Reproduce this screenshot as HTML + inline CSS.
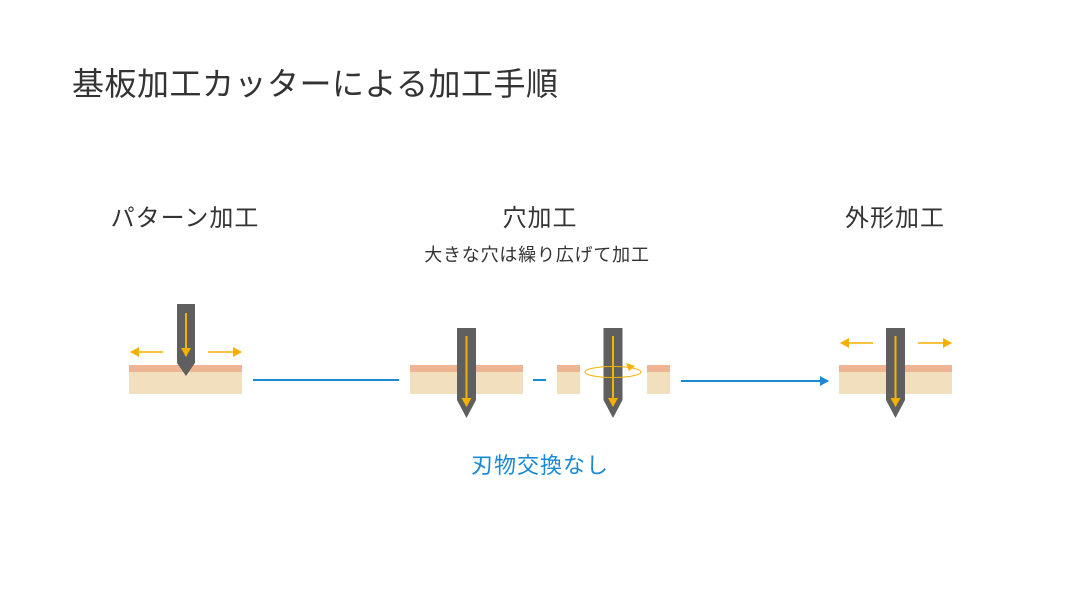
<!DOCTYPE html>
<html><head><meta charset="utf-8"><style>
body{margin:0;width:1080px;height:608px;background:#fff;overflow:hidden;font-family:"Liberation Sans","Noto Sans CJK JP",sans-serif;}
.t{position:absolute;white-space:nowrap;color:#333;}
</style></head><body>
<div class="t" style="left:72px;top:59px;font-size:32px;letter-spacing:0.5px;">基板加工カッターによる加工手順</div>
<div class="t" style="left:85px;top:198px;font-size:24px;width:200px;text-align:center;letter-spacing:1px;">パターン加工</div>
<div class="t" style="left:440px;top:198px;font-size:24px;width:200px;text-align:center;letter-spacing:1px;">穴加工</div>
<div class="t" style="left:795px;top:198px;font-size:24px;width:200px;text-align:center;letter-spacing:1px;">外形加工</div>
<div class="t" style="left:387px;top:241px;font-size:18px;width:300px;text-align:center;letter-spacing:0.8px;">大きな穴は繰り広げて加工</div>
<div class="t" style="left:440px;top:448px;font-size:22px;width:200px;text-align:center;color:#1a8ad4;letter-spacing:1px;">刃物交換なし</div>
<svg width="1080" height="608" style="position:absolute;left:0;top:0">
<defs>
<marker id="o" markerWidth="10" markerHeight="10" refX="8" refY="5" orient="auto" markerUnits="userSpaceOnUse"><path d="M0,0L9,5L0,10z" fill="#f5b000"/></marker>
<marker id="b" markerWidth="10" markerHeight="10" refX="8" refY="5" orient="auto" markerUnits="userSpaceOnUse"><path d="M0,0L9,5L0,10z" fill="#1a8ad4"/></marker>
<g id="tool"><path d="M0,0H19V72L9.5,90L0,72Z" fill="#5f5f5f"/><line x1="9.5" y1="8" x2="9.5" y2="78" stroke="#f5b000" stroke-width="2" marker-end="url(#o)"/></g>
</defs>
<g fill="#efb493"><rect x="129" y="365" width="113" height="7"/><rect x="410" y="365" width="113" height="7"/><rect x="557" y="365" width="23" height="7"/><rect x="647" y="365" width="23" height="7"/><rect x="839" y="365" width="113" height="7"/></g>
<g fill="#f2dfbd"><rect x="129" y="372" width="113" height="22"/><rect x="410" y="372" width="113" height="22"/><rect x="557" y="372" width="23" height="22"/><rect x="647" y="372" width="23" height="22"/><rect x="839" y="372" width="113" height="22"/></g>
<path d="M177,304H195V363L186,376L177,363Z" fill="#5f5f5f"/>
<line x1="186" y1="313" x2="186" y2="356" stroke="#f5b000" stroke-width="2" marker-end="url(#o)"/>
<use href="#tool" x="457" y="328"/>
<use href="#tool" x="603.5" y="328"/>
<use href="#tool" x="886" y="328"/>
<ellipse cx="613" cy="372" rx="28" ry="5.5" fill="none" stroke="#f5b000" stroke-width="1"/>
<path d="M635,366L626,363L629,371Z" fill="#f5b000"/>
<g stroke="#f5b000" stroke-width="1.5">
<line x1="163" y1="352" x2="131" y2="352" marker-end="url(#o)"/>
<line x1="208" y1="352" x2="241" y2="352" marker-end="url(#o)"/>
<line x1="873" y1="343" x2="841" y2="343" marker-end="url(#o)"/>
<line x1="918" y1="343" x2="951" y2="343" marker-end="url(#o)"/>
</g>
<g stroke="#1a8ad4" stroke-width="2">
<line x1="253" y1="380" x2="399" y2="380"/>
<line x1="533" y1="380" x2="546" y2="380"/>
<line x1="681" y1="381" x2="828" y2="381" marker-end="url(#b)"/>
</g>
</svg>
</body></html>
